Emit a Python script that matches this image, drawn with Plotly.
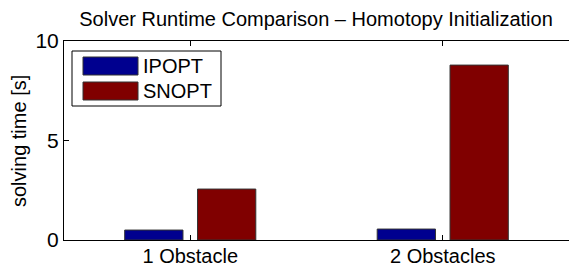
import plotly.graph_objects as go

categories = ["1 Obstacle", "2 Obstacles"]
series_names = ["IPOPT", "SNOPT"]
ipopt_values = [0.50, 0.55]
snopt_values = [2.56, 8.79]
series_values = [ipopt_values, snopt_values]
series_colors = ["#00008F", "#800000"]
y_ticks = [0, 5, 10]

W, H = 569, 268
L, R, T, B = 64, 0, 41, 28
pw, ph = W - L - R, H - T - B

FONT = "Arial, Liberation Sans, sans-serif"

fig = go.Figure()
for name, vals, col in zip(series_names, series_values, series_colors):
    fig.add_trace(go.Bar(
        x=categories, y=vals, name=name,
        marker=dict(color=col, line=dict(color="#333333", width=1)),
        showlegend=False, hoverinfo="skip",
    ))

def px_x(px):
    return (px - L) / pw

def px_y(py):
    return (H - B - py) / ph

shapes = [dict(type="rect", xref="paper", yref="paper",
               x0=px_x(72), x1=px_x(221), y0=px_y(106), y1=px_y(51),
               line=dict(color="black", width=1), fillcolor="white", layer="above")]
annotations = []
row_centers = [66, 91]
for name, col, cy in zip(series_names, series_colors, row_centers):
    shapes.append(dict(type="rect", xref="paper", yref="paper",
                       x0=px_x(83), x1=px_x(138), y0=px_y(cy + 9), y1=px_y(cy - 9),
                       line=dict(color="#333333", width=1), fillcolor=col, layer="above"))
    annotations.append(dict(text=name, xref="paper", yref="paper",
                            x=px_x(141), y=px_y(cy), xanchor="left", yanchor="middle",
                            showarrow=False, font=dict(family=FONT, size=20, color="black")))

annotations.append(dict(text="solving time [s]", xref="paper", yref="paper",
                        x=px_x(19), y=px_y(141), xanchor="center", yanchor="middle",
                        textangle=-90, showarrow=False,
                        font=dict(family=FONT, size=20, color="black")))

fig.update_layout(
    width=W, height=H,
    margin=dict(l=L, r=R, t=T, b=B, autoexpand=False),
    paper_bgcolor="white", plot_bgcolor="white",
    barmode="group", bargap=0.423, bargroupgap=0.2,
    font=dict(family=FONT, size=20, color="black"),
    title=dict(text="Solver Runtime Comparison – Homotopy Initialization",
               x=316 / W, xref="container", xanchor="center",
               y=1 - 19 / H, yref="container", yanchor="middle",
               font=dict(family=FONT, size=20, color="black")),
    shapes=shapes,
    annotations=annotations,
)
fig.update_xaxes(
    range=[-0.5, 1.5], showline=True, linecolor="black", linewidth=1,
    mirror="ticks", ticks="inside", ticklen=5, tickcolor="black",
    showgrid=False, tickfont=dict(size=20), automargin=False,
    ticklabelstandoff=-2,
)
fig.update_yaxes(
    range=[0, 10], tickvals=y_ticks, showline=True, linecolor="black", linewidth=1,
    mirror=False, ticks="inside", ticklen=5, tickcolor="black",
    showgrid=False, zeroline=False, tickfont=dict(size=21), automargin=False,
)

fig.write_html("out.html", config={"displayModeBar": False, "staticPlot": True},
               post_script="document.body.style.margin='0';document.body.style.overflow='hidden';")
